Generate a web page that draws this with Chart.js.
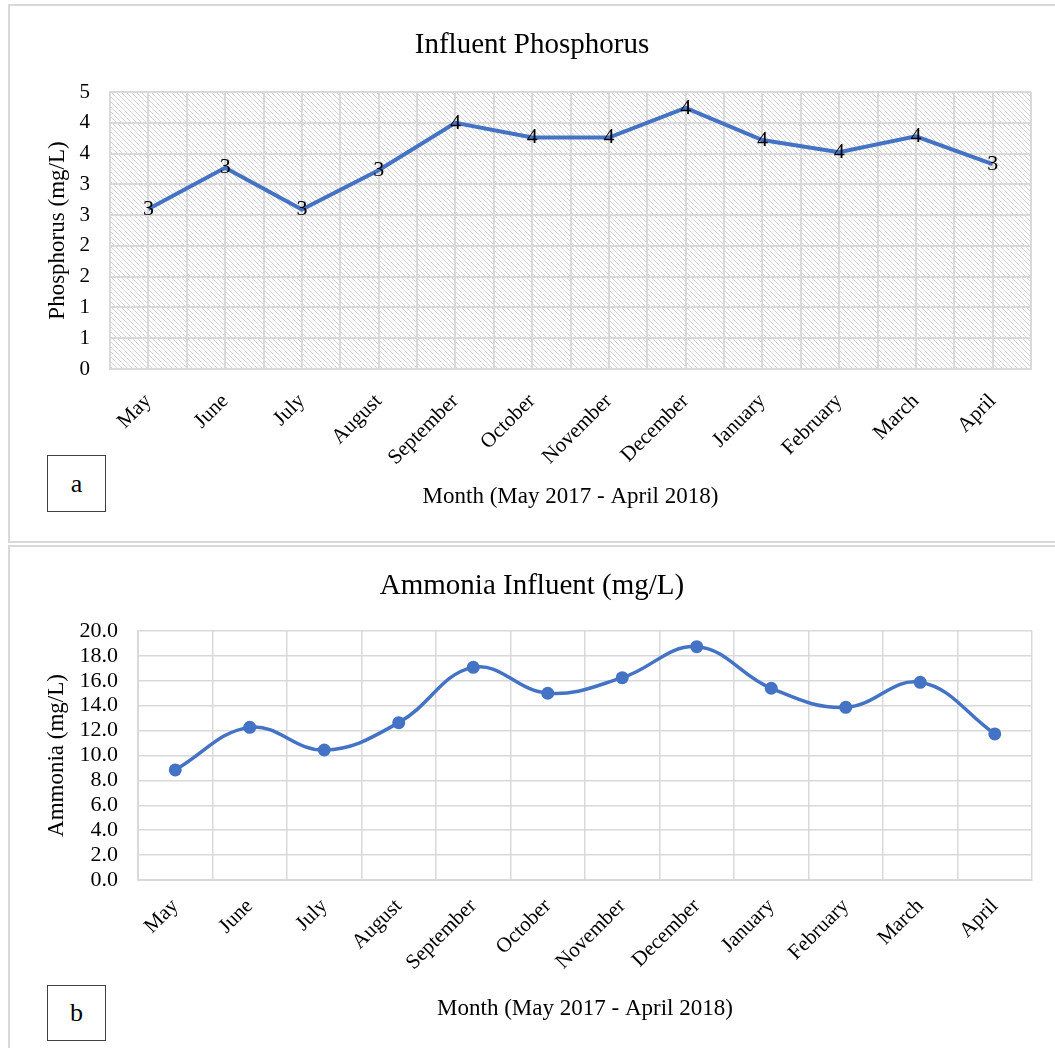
<!DOCTYPE html>
<html><head><meta charset="utf-8">
<script src="https://cdn.jsdelivr.net/npm/chart.js@4.4.0/dist/chart.umd.min.js"></script>
<style>
body{margin:0;background:#fff;width:1055px;height:1048px;overflow:hidden;position:relative;}
.frame{position:absolute;border:2px solid #d9d9d9;border-right:none;box-sizing:border-box;}
.tag{position:absolute;border:1.5px solid #404040;box-sizing:border-box;font:26px "Liberation Serif";display:flex;align-items:center;justify-content:center;background:#fff;color:#000;}
canvas{position:absolute;}
</style></head><body>
<div class="frame" style="left:8px;top:4px;width:1060px;height:539px"></div>
<div class="frame" style="left:8px;top:545px;width:1060px;height:520px"></div>
<canvas id="c1" width="1046" height="537" style="left:9px;top:5px"></canvas>
<canvas id="c2" width="1046" height="502" style="left:9px;top:546px"></canvas>
<div class="tag" style="left:47px;top:455px;width:59px;height:57px">a</div>
<div class="tag" style="left:47px;top:985px;width:59px;height:56px">b</div>
<script>
const months = ['May','June','July','August','September','October','November','December','January','February','March','April'];
const phosphorus = [2.60, 3.27, 2.59, 3.23, 4.00, 3.76, 3.76, 4.24, 3.72, 3.52, 3.78, 3.33];
const phosphorusTickLabels = ['0','1','1','2','2','3','3','4','4','5'];
const ammonia = [8.84, 12.26, 10.44, 12.64, 17.08, 15.00, 16.25, 18.74, 15.40, 13.87, 15.88, 11.73];
const ammoniaTickLabels = ['0.0','2.0','4.0','6.0','8.0','10.0','12.0','14.0','16.0','18.0','20.0'];

const SERIF = '"Liberation Serif", "Times New Roman", serif';
const BLUE = '#4472C4';
const GRID = '#d9d9d9';

function makeHatch(ctx){
  const c = document.createElement('canvas'); c.width = 5; c.height = 5;
  const x = c.getContext('2d');
  x.strokeStyle = '#d4d4d4'; x.lineWidth = 1;
  x.beginPath();
  x.moveTo(-1,-1); x.lineTo(6,6);
  x.moveTo(-1,4); x.lineTo(1,6);
  x.moveTo(4,-1); x.lineTo(6,1);
  x.stroke();
  return ctx.createPattern(c, 'repeat');
}
const hatchBg = {
  id: 'hatchBg',
  beforeDraw(chart){
    const {ctx, chartArea:a} = chart;
    ctx.save();
    ctx.fillStyle = makeHatch(ctx);
    ctx.fillRect(a.left, a.top, a.right - a.left, a.bottom - a.top);
    ctx.restore();
  }
};
const valueLabels = {
  id: 'valueLabels',
  afterDatasetsDraw(chart){
    const {ctx} = chart;
    const meta = chart.getDatasetMeta(0);
    const vals = chart.data.datasets[0].data;
    ctx.save();
    ctx.font = '22px ' + SERIF;
    ctx.fillStyle = '#000';
    ctx.textAlign = 'center';
    ctx.textBaseline = 'middle';
    meta.data.forEach((p, i) => ctx.fillText(String(Math.round(vals[i])), p.x, p.y));
    ctx.restore();
  }
};
const spacer = (w) => ({
  type: 'linear', position: 'right', display: true,
  grid: { display: false, drawTicks: false }, border: { display: false },
  ticks: { display: false }, afterFit(s){ s.width = w; }
});

new Chart(document.getElementById('c1'), {
  type: 'line',
  data: { labels: months, datasets: [{ data: phosphorus, borderColor: BLUE, borderWidth: 4, pointRadius: 0, tension: 0, fill: false }] },
  options: {
    responsive: false, animation: false,
    layout: { padding: 0 },
    plugins: {
      legend: { display: false }, tooltip: { enabled: false },
      title: { display: true, text: 'Influent Phosphorus', color: '#000', font: { family: SERIF, size: 29, weight: 'normal' }, padding: { top: 22.6, bottom: 29.6 } }
    },
    scales: {
      x: {
        offset: true,
        grid: { offset: true, color: GRID, lineWidth: 2, drawTicks: false },
        border: { display: true, color: GRID, width: 2 },
        ticks: { color: '#000', font: { family: SERIF, size: 21 }, maxRotation: 45, minRotation: 45, padding: 20, autoSkip: false },
        title: { display: true, text: 'Month (May 2017 - April 2018)', color: '#000', font: { family: SERIF, size: 23 }, padding: { top: 0, bottom: 31.2 } },
        afterFit(s){ s.height = 173; }
      },
      x2: {
        type: 'category', labels: months, position: 'bottom', offset: true,
        grid: { offset: false, color: GRID, lineWidth: 2, drawTicks: false },
        border: { display: false },
        ticks: { display: false },
        afterFit(s){ s.height = 0; }
      },
      y: {
        min: 0, max: 4.5,
        ticks: { stepSize: 0.5, autoSkip: false, color: '#000', font: { family: SERIF, size: 21 }, padding: 20,
          callback: (v, i) => phosphorusTickLabels[i] },
        grid: { color: GRID, lineWidth: 2, drawTicks: false },
        border: { display: true, color: GRID, width: 2 },
        title: { display: true, text: 'Phosphorus (mg/L)', color: '#000', font: { family: SERIF, size: 23 }, padding: { top: 35.2, bottom: 0 } },
        afterFit(s){ s.width = 101; }
      },
      yPad: spacer(24)
    }
  },
  plugins: [hatchBg, valueLabels]
});

new Chart(document.getElementById('c2'), {
  type: 'line',
  data: { labels: months, datasets: [{ data: ammonia, borderColor: BLUE, backgroundColor: BLUE, borderWidth: 3.5, pointRadius: 6.5, pointBorderWidth: 0, pointBackgroundColor: BLUE, tension: 0.4, cubicInterpolationMode: 'default', fill: false }] },
  options: {
    responsive: false, animation: false,
    layout: { padding: 0 },
    plugins: {
      legend: { display: false }, tooltip: { enabled: false },
      title: { display: true, text: 'Ammonia Influent (mg/L)', color: '#000', font: { family: SERIF, size: 29, weight: 'normal' }, padding: { top: 22.6, bottom: 27.6 } }
    },
    scales: {
      x: {
        offset: true,
        grid: { offset: true, color: GRID, lineWidth: 1.5, drawTicks: false },
        border: { display: true, color: GRID, width: 2 },
        ticks: { color: '#000', font: { family: SERIF, size: 21 }, maxRotation: 45, minRotation: 45, padding: 14, autoSkip: false },
        title: { display: true, text: 'Month (May 2017 - April 2018)', color: '#000', font: { family: SERIF, size: 23 }, padding: { top: 0, bottom: 25.2 } },
        afterFit(s){ s.height = 168; }
      },
      y: {
        min: 0, max: 20,
        ticks: { stepSize: 2, autoSkip: false, color: '#000', font: { family: SERIF, size: 22 }, padding: 20,
          callback: (v, i) => ammoniaTickLabels[i] },
        grid: { color: GRID, lineWidth: 1.5, drawTicks: false },
        border: { display: true, color: GRID, width: 2 },
        title: { display: true, text: 'Ammonia (mg/L)', color: '#000', font: { family: SERIF, size: 23 }, padding: { top: 34.2, bottom: 0 } },
        afterFit(s){ s.width = 129; }
      },
      yPad: spacer(23)
    }
  }
});
</script>
</body></html>
